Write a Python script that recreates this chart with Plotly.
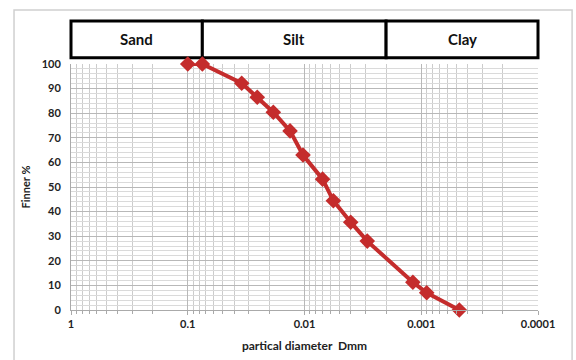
import math
import plotly.graph_objects as go

# Grain size distribution (hydrometer / sieve)
diameter_mm = [0.1, 0.075, 0.0345, 0.0254, 0.0185, 0.0133, 0.0103, 0.0070,
               0.00566, 0.00402, 0.0029, 0.00118, 0.000898, 0.000472]
finer_pct = [100, 100, 92.2, 86.5, 80.4, 72.8, 63.0, 53.2,
             44.4, 35.7, 28.0, 11.3, 7.0, 0]

x_tick_vals = [1, 0.1, 0.01, 0.001, 0.0001]
x_tick_text = ["1", "0.1", "0.01", "0.001", "0.0001"]

soil_classes = ["Sand", "Silt", "Clay"]
class_limits_mm = [1, 0.075, 0.002, 0.0001]

FONT = "Lato"
LINE_RED = "rgb(196,44,44)"

# minor grid at 2..9 of every decade
minor_vals = []
for e in range(-4, 0):
    for m in range(2, 10):
        minor_vals.append(m * 10 ** e)

fig = go.Figure()
fig.add_trace(go.Scatter(
    x=diameter_mm, y=finer_pct, mode="lines+markers",
    line=dict(color=LINE_RED, width=4),
    marker=dict(symbol="diamond", size=12, color=LINE_RED),
    showlegend=False, cliponaxis=False,
))

fig.update_xaxes(
    type="log", range=[0, -4], autorange=False, automargin=False,
    tickvals=x_tick_vals, ticktext=x_tick_text,
    tickfont=dict(family=FONT, size=11, color="#222", weight="bold"),
    showgrid=True, gridcolor="#b8b8b8", gridwidth=1,
    minor=dict(tickvals=minor_vals, showgrid=True, gridcolor="#cccccc",
               gridwidth=1, ticks="outside", ticklen=3, tickcolor="#aaa"),
    ticks="outside", ticklen=4, tickcolor="#aaa",
    showline=True, linecolor="#aaa", linewidth=1,
    zeroline=False,
    title=dict(text="<b>partical diameter  Dmm</b>", standoff=12,
               font=dict(family=FONT, size=12, color="#222")),
)
fig.update_yaxes(
    range=[0, 100], dtick=10, automargin=False,
    tickfont=dict(family=FONT, size=11, color="#222", weight="bold"),
    showgrid=True, gridcolor="#b8b8b8", gridwidth=1,
    minor=dict(dtick=2, showgrid=True, gridcolor="#dadada", gridwidth=1),
    showline=True, linecolor="#aaa", linewidth=1, zeroline=False,
    ticks="", ticklabelstandoff=7,
    title=dict(text="<b>Finner %</b>", standoff=8,
               font=dict(family=FONT, size=11, color="#222")),
)


def xpaper(d):
    return (0 - math.log10(d)) / 4.0


shapes = []
annotations = []
# outer chart frame
shapes.append(dict(type="rect", xref="paper", yref="paper",
                   x0=-0.122, x1=1.073, y0=-0.215, y1=1.22,
                   line=dict(color="#d0d0d0", width=1.5)))
# soil class boxes above the plot
for i, name in enumerate(soil_classes):
    x0 = xpaper(class_limits_mm[i])
    x1 = xpaper(class_limits_mm[i + 1])
    shapes.append(dict(type="rect", xref="paper", yref="paper",
                       x0=x0, x1=x1, y0=1.025, y1=1.175,
                       line=dict(color="black", width=3),
                       fillcolor="white", layer="below"))
    annotations.append(dict(xref="paper", yref="paper",
                            x=(x0 + x1) / 2, y=1.1, text="<b>%s</b>" % name,
                            xanchor="center", yanchor="middle",
                            showarrow=False,
                            font=dict(family=FONT, size=15, color="#111")))

fig.update_layout(
    width=576, height=360,
    margin=dict(l=71, r=38, t=64, b=50),
    paper_bgcolor="white", plot_bgcolor="white",
    shapes=shapes, annotations=annotations,
)

fig.write_html("out.html")
